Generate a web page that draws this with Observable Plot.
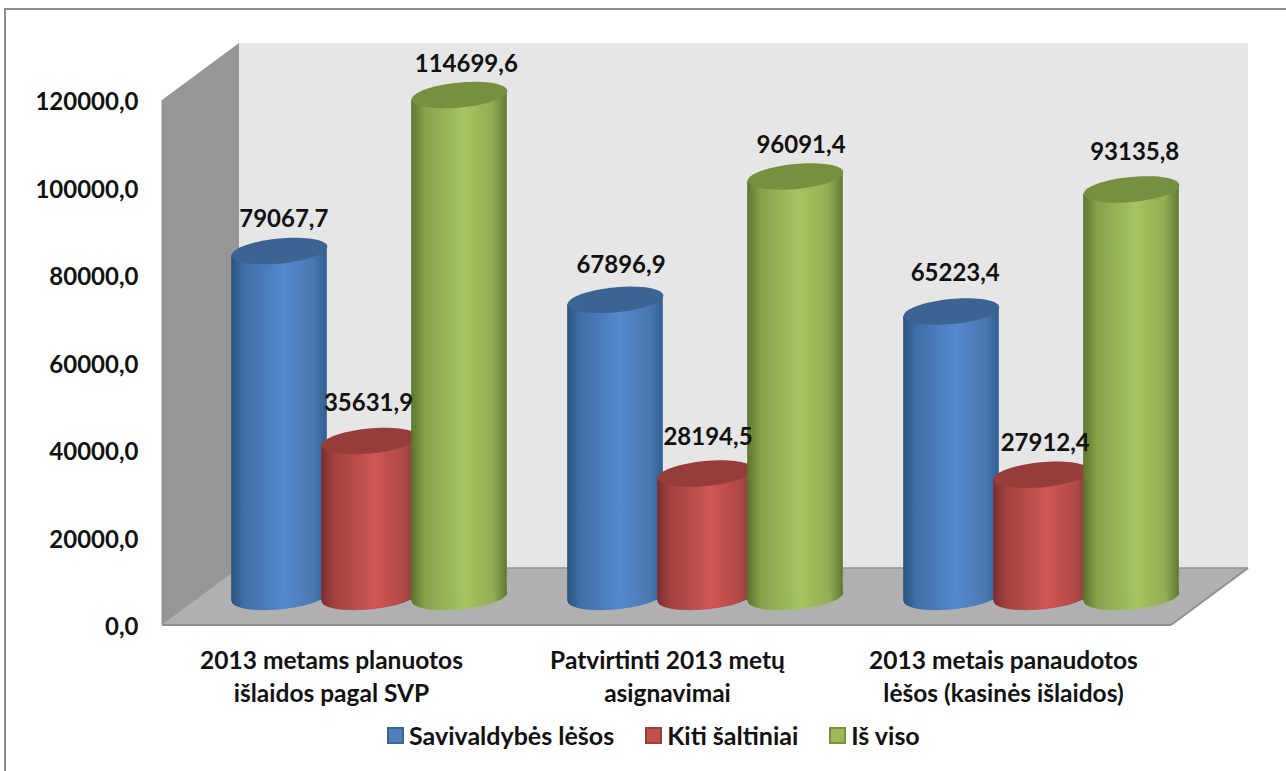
<!DOCTYPE html>
<html>
<head>
<meta charset="utf-8">
<script src="https://cdn.jsdelivr.net/npm/d3@7"></script>
<script src="https://cdn.jsdelivr.net/npm/@observablehq/plot@0.6"></script>
<style>
  html, body { margin: 0; padding: 0; background: #fff; overflow: hidden; }
  #frame { position: absolute; left: 4px; top: 8px; right: -10px; bottom: -10px; border-left: 2px solid #8c8c8c; border-top: 2px solid #8c8c8c; pointer-events: none; }
  #chart svg { display: block; }
  #legend { position: absolute; left: 387px; top: 720px; display: flex; align-items: center; font: bold 25px/30px Lato, sans-serif; color: #111; white-space: nowrap; }
  #legend .item { display: flex; align-items: center; margin-right: 31px; }
  #legend .swatch { width: 13px; height: 13px; border: 2px solid; margin-right: 5px; box-sizing: content-box; }
</style>
</head>
<body>
<div id="frame"></div>
<div id="chart"></div>
<div id="legend"></div>
<script>
const categories = [
  "2013 metams planuotos\nišlaidos pagal SVP",
  "Patvirtinti 2013 metų\nasignavimai",
  "2013 metais panaudotos\nlėšos (kasinės išlaidos)"
];
const seriesNames = ["Savivaldybės lėšos", "Kiti šaltiniai", "Iš viso"];
const savivaldybes = [79067.7, 67896.9, 65223.4];
const kiti = [35631.9, 28194.5, 27912.4];
const isViso = [114699.6, 96091.4, 93135.8];
const yTicks = [0, 20000, 40000, 60000, 80000, 100000, 120000];

const seriesValues = [savivaldybes, kiti, isViso];
const sideStops = [
  [[0, "#2b5280"], [0.14, "#3f6ea6"], [0.55, "#5588cf"], [0.85, "#4a78b3"], [1, "#335f90"]],
  [[0, "#7c2f2d"], [0.14, "#a24341"], [0.55, "#cf5653"], [0.85, "#b04a47"], [1, "#8a3a38"]],
  [[0, "#5b742e"], [0.14, "#84a34a"], [0.55, "#a3c460"], [0.85, "#90af52"], [1, "#5f7a31"]]
];
const capColors = ["#3c6392", "#963c3a", "#76903f"];
const swatchFill = ["#4f81bd", "#c0504d", "#9bbb59"];
const swatchEdge = ["#3a6595", "#94403d", "#76923c"];

// Layout of the 3-D box and cylinders
const depthX = 77, depthY = -57;
const cylinderDx = [-52, 38, 128];
const cylinderDy = -28.6;
const cylinderWidth = 96, capRy = 12.5, tiltDeg = -5.5;
const labelNudgeX = [[4.3, 5.5, 3.7], [-1, 2.5, 3.7], [6.8, 5.5, 3.2]];
const labelNudgeY = [[-31.4, -35, -38], [-37.5, -36, -31], [-30.5, -31, -37]];
const fontFamily = "Lato";

const comma = v => d3.format(".1f")(v).replace(".", ",");

const ellipse = {
  draw(ctx) {
    const a = cylinderWidth / 2, t = tiltDeg * Math.PI / 180;
    for (let i = 0; i < 72; ++i) {
      const u = i / 72 * 2 * Math.PI;
      const ex = a * Math.cos(u), ey = capRy * Math.sin(u);
      const px = ex * Math.cos(t) - ey * Math.sin(t);
      const py = ex * Math.sin(t) + ey * Math.cos(t);
      i ? ctx.lineTo(px, py) : ctx.moveTo(px, py);
    }
    ctx.closePath();
  }
};

function defsMark() {
  const g = d3.create("svg:g");
  const defs = g.append("defs");
  sideStops.forEach((stops, i) => {
    const lg = defs.append("linearGradient").attr("id", "side" + i).attr("x1", 0).attr("x2", 1).attr("y1", 0).attr("y2", 0);
    stops.forEach(([o, c]) => lg.append("stop").attr("offset", o).attr("stop-color", c));
  });
  return g.node();
}

function boxMark(index, { y }, values, { marginLeft, marginRight, width }) {
  const x0 = marginLeft, x1 = width - marginRight;
  const y0 = y(0), y1 = y(120000);
  const g = d3.create("svg:g");
  const poly = (pts, fill) => g.append("path")
    .attr("d", "M" + pts.map(p => p.join(",")).join("L") + "Z")
    .attr("fill", fill).attr("stroke", "none");
  const edge = (a, b, c, w) => g.append("line").attr("x1", a[0]).attr("y1", a[1]).attr("x2", b[0]).attr("y2", b[1]).attr("stroke", c).attr("stroke-width", w);
  const bx0 = x0 + depthX, bx1 = x1 + depthX;
  poly([[bx0, y1 + depthY], [bx1, y1 + depthY], [bx1, y0 + depthY], [bx0, y0 + depthY]], "#e6e6e6");
  poly([[x0, y1], [bx0, y1 + depthY], [bx0, y0 + depthY], [x0, y0]], "#969696");
  poly([[x0, y0], [bx0, y0 + depthY], [bx1, y0 + depthY], [x1, y0]], "#b0b0b0");
  edge([x0, y0], [x1, y0], "#8f8f8f", 2);
  edge([x1, y0], [bx1, y0 + depthY], "#8f8f8f", 2);
  edge([bx0, y0 + depthY], [bx1, y0 + depthY], "#949494", 1.5);
  edge([x0, y0], [bx0, y0 + depthY], "#a8a8a8", 1);
  edge([x0, y0], [x0, y1], "#8f8f8f", 1);
  return g.node();
}

function skewBars(index, scales, values, dimensions, context, next) {
  const g = next(index, scales, values, dimensions, context);
  d3.select(g).selectAll("rect").attr("transform", function () {
    const cx = +this.getAttribute("x") + +this.getAttribute("width") / 2;
    return `translate(${cx},0) skewY(${tiltDeg}) translate(${-cx},0)`;
  });
  return g;
}

const bandWidth = (1286 - 162 - 115) / 3;
const inset = (bandWidth - cylinderWidth) / 2;
const cylinderMarks = [];
const labelMarks = [];
seriesNames.forEach((name, s) => {
  const rows = categories.map((c, i) => ({ category: c, value: seriesValues[s][i] }));
  cylinderMarks.push(
    Plot.dot(rows, { x: "category", y: () => 0, dx: cylinderDx[s], dy: cylinderDy, symbol: ellipse, r: 1, fill: `url(#side${s})`, stroke: "none" }),
    Plot.barY(rows, { x: "category", y: "value", dx: cylinderDx[s], dy: cylinderDy, insetLeft: inset, insetRight: inset, fill: `url(#side${s})`, render: skewBars }),
    Plot.dot(rows, { x: "category", y: "value", dx: cylinderDx[s], dy: cylinderDy, symbol: ellipse, r: 1, fill: capColors[s], stroke: "none" })
  );
  rows.forEach((row, i) => labelMarks.push(
    Plot.text([row], { x: "category", y: "value", dx: cylinderDx[s] + labelNudgeX[s][i], dy: cylinderDy + labelNudgeY[s][i], text: d => comma(d.value), fontSize: 24, fontWeight: "bold", fontFamily, fill: "#111" })
  ));
});

const chart = Plot.plot({
  width: 1286,
  height: 715,
  marginLeft: 162,
  marginRight: 115,
  marginTop: 100,
  marginBottom: 90,
  style: { background: "transparent", overflow: "visible" },
  x: { type: "band", domain: categories, padding: 0, label: null },
  y: { domain: [0, 120000], label: null, nice: false },
  marks: [
    defsMark,
    boxMark,
    ...cylinderMarks,
    ...labelMarks,
    Plot.axisY({ ticks: yTicks, tickFormat: comma, tickSize: 0, tickPadding: 24, dy: 2, label: null, fontSize: 24, fontWeight: "bold", fontFamily, fill: "#111" }),
    Plot.axisX({ tickSize: 0, tickPadding: 20, label: null, fontSize: 24.5, fontWeight: "bold", fontFamily, fill: "#111", lineHeight: 1.35 })
  ]
});
document.getElementById("chart").appendChild(chart);

const legend = d3.select("#legend");
seriesNames.forEach((name, i) => {
  const item = legend.append("div").attr("class", "item");
  item.append("span").attr("class", "swatch").style("background", swatchFill[i]).style("border-color", swatchEdge[i]);
  item.append("span").text(name);
});
</script>
</body>
</html>
